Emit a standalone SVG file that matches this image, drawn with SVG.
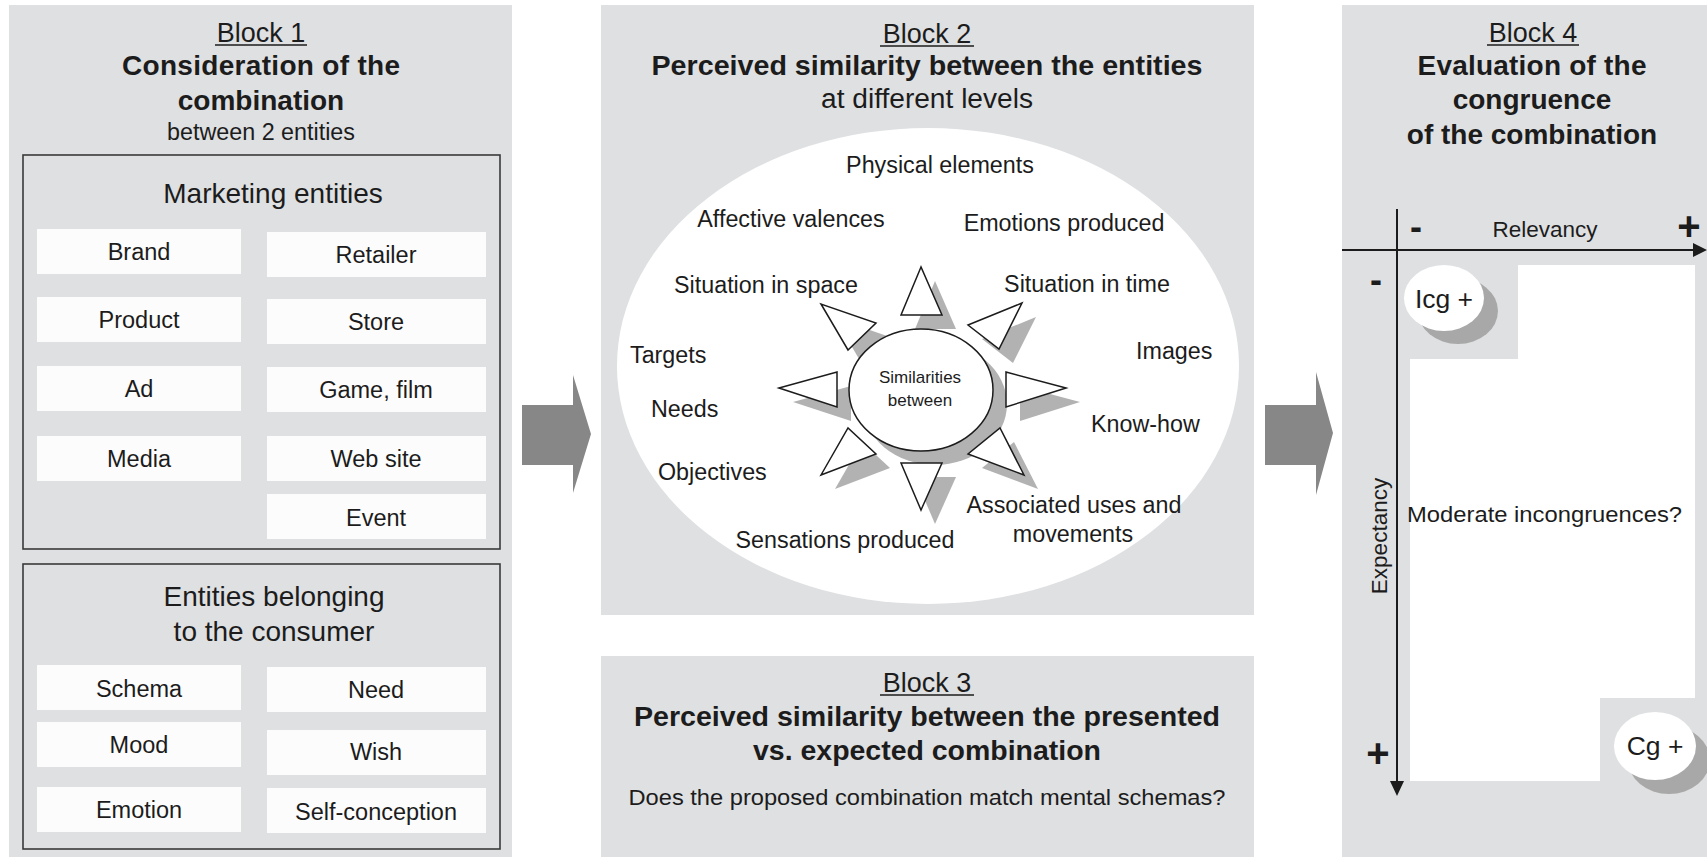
<svg xmlns="http://www.w3.org/2000/svg" xmlns:xlink="http://www.w3.org/1999/xlink" width="1707" height="857" viewBox="0 0 1707 857">
<style>
.panel{fill:#dfe0e2}
.t{font-family:"Liberation Sans",Arial,sans-serif;fill:#1c1c1c}
.b{font-weight:bold}
.c{text-anchor:middle}
.s28{font-size:28px}
.s27{font-size:27px}
.e{font-size:23.5px}
.l{font-size:23.3px}
.s22{font-size:22.5px}
.box{fill:#fcfcfc}
.frame{fill:none;stroke:#3a3a3a;stroke-width:1.6}
.ul{stroke:#1c1c1c;stroke-width:1.6}
.arrow{fill:#878787}
.axis{stroke:#1c1c1c;stroke-width:2}
</style>
<defs>
<g id="star">
<ellipse cx="921" cy="390" rx="72" ry="61"/>
<polygon points="921,267 901,315 942,315"/>
<polygon points="901,463 942,463 921,510"/>
<polygon points="779,388 837,372 837,407"/>
<polygon points="1066,388 1006,372 1006,407"/>
<polygon points="821,304 848,350 876,323"/>
<polygon points="1022,303 968,325 999,349"/>
<polygon points="821,475 848,428 876,454"/>
<polygon points="1024,475 1000,428 968,454"/>
</g>
</defs>
<rect width="1707" height="857" fill="#ffffff"/>

<g id="block1">
<rect class="panel" x="9" y="5" width="503" height="852"/>
<text class="t c s27" x="261" y="42">Block 1</text>
<line class="ul" x1="215" y1="45" x2="307" y2="45"/>
<text class="t c s28 b" x="261" y="75" textLength="278" lengthAdjust="spacing">Consideration of the</text>
<text class="t c s28 b" x="261" y="110">combination</text>
<text class="t c" font-size="23" x="261" y="140" textLength="188" lengthAdjust="spacingAndGlyphs">between 2 entities</text>
</g>

<g id="marketing-entities">
<rect class="frame" x="23" y="155" width="477" height="394"/>
<text class="t c s28" x="273" y="203">Marketing entities</text>
<rect class="box" x="37" y="229" width="204" height="45"/><text class="t c e" x="139" y="260">Brand</text>
<rect class="box" x="267" y="232" width="219" height="45"/><text class="t c e" x="376" y="263">Retailer</text>
<rect class="box" x="37" y="297" width="204" height="45"/><text class="t c e" x="139" y="328">Product</text>
<rect class="box" x="267" y="299" width="219" height="45"/><text class="t c e" x="376" y="330">Store</text>
<rect class="box" x="37" y="366" width="204" height="45"/><text class="t c e" x="139" y="397">Ad</text>
<rect class="box" x="267" y="367" width="219" height="45"/><text class="t c e" x="376" y="398">Game, film</text>
<rect class="box" x="37" y="436" width="204" height="45"/><text class="t c e" x="139" y="467">Media</text>
<rect class="box" x="267" y="436" width="219" height="45"/><text class="t c e" x="376" y="467">Web site</text>
<rect class="box" x="267" y="494" width="219" height="45"/><text class="t c e" x="376" y="526">Event</text>
</g>

<g id="consumer-entities">
<rect class="frame" x="23" y="564" width="477" height="285"/>
<text class="t c s28" x="274" y="606">Entities belonging</text>
<text class="t c s28" x="274" y="641">to the consumer</text>
<rect class="box" x="37" y="665" width="204" height="45"/><text class="t c e" x="139" y="697">Schema</text>
<rect class="box" x="267" y="667" width="219" height="45"/><text class="t c e" x="376" y="698">Need</text>
<rect class="box" x="37" y="722" width="204" height="45"/><text class="t c e" x="139" y="753">Mood</text>
<rect class="box" x="267" y="730" width="219" height="45"/><text class="t c e" x="376" y="760">Wish</text>
<rect class="box" x="37" y="787" width="204" height="45"/><text class="t c e" x="139" y="818">Emotion</text>
<rect class="box" x="267" y="788" width="219" height="45"/><text class="t c e" x="376" y="820">Self-conception</text>
</g>

<g id="block2">
<rect class="panel" x="601" y="5" width="653" height="610"/>
<text class="t c s27" x="927" y="43">Block 2</text>
<line class="ul" x1="880" y1="46" x2="974" y2="46"/>
<text class="t c s27 b" x="927" y="75" textLength="551" lengthAdjust="spacingAndGlyphs">Perceived similarity between the entities</text>
<text class="t c s27" x="927" y="108" textLength="212" lengthAdjust="spacingAndGlyphs">at different levels</text>
<ellipse cx="928" cy="366" rx="311" ry="238" fill="#ffffff"/>
<use xlink:href="#star" fill="#b2b2b2" transform="translate(14,14)"/>
<use xlink:href="#star" fill="#ffffff" stroke="#1c1c1c" stroke-width="1.5"/>
<text class="t c" font-size="17" x="920" y="383">Similarities</text>
<text class="t c" font-size="17" x="920" y="406">between</text>
<text class="t c l" x="940" y="173">Physical elements</text>
<text class="t c l" x="791" y="227">Affective valences</text>
<text class="t c l" x="1064" y="231">Emotions produced</text>
<text class="t c l" x="766" y="293">Situation in space</text>
<text class="t c l" x="1087" y="292">Situation in time</text>
<text class="t l" x="630" y="363">Targets</text>
<text class="t l" x="1136" y="359">Images</text>
<text class="t l" x="651" y="417">Needs</text>
<text class="t l" x="1091" y="432">Know-how</text>
<text class="t l" x="658" y="480">Objectives</text>
<text class="t c l" x="1074" y="513">Associated uses and</text>
<text class="t c l" x="1073" y="542">movements</text>
<text class="t c l" x="845" y="548">Sensations produced</text>
</g>

<g id="block3">
<rect class="panel" x="601" y="656" width="653" height="201"/>
<text class="t c s27" x="927" y="692">Block 3</text>
<line class="ul" x1="880" y1="695" x2="974" y2="695"/>
<text class="t c s27 b" x="927" y="726" textLength="586" lengthAdjust="spacingAndGlyphs">Perceived similarity between the presented</text>
<text class="t c s27 b" x="927" y="760" textLength="348" lengthAdjust="spacingAndGlyphs">vs. expected combination</text>
<text class="t c s22" x="927" y="805" textLength="597" lengthAdjust="spacingAndGlyphs">Does the proposed combination match mental schemas?</text>
</g>

<g id="block4">
<rect class="panel" x="1342" y="5" width="365" height="852"/>
<text class="t c s27" x="1533" y="42">Block 4</text>
<line class="ul" x1="1487" y1="45" x2="1579" y2="45"/>
<text class="t c s28 b" x="1532" y="75" textLength="229" lengthAdjust="spacing">Evaluation of the</text>
<text class="t c s28 b" x="1532" y="109">congruence</text>
<text class="t c s28 b" x="1532" y="144">of the combination</text>
<polygon points="1518,265 1695,265 1695,698 1600,698 1600,781 1410,781 1410,359 1518,359" fill="#ffffff"/>
<line class="axis" x1="1342" y1="250" x2="1696" y2="250"/>
<polygon points="1693,243 1707,250 1693,257" fill="#1c1c1c"/>
<line class="axis" x1="1397" y1="209" x2="1397" y2="784"/>
<polygon points="1390,781 1404,781 1397,796" fill="#1c1c1c"/>
<text class="t c b" font-size="36" x="1416" y="239">-</text>
<text class="t c s22" x="1545" y="237">Relevancy</text>
<text class="t c b" font-size="40" x="1689" y="240">+</text>
<text class="t c b" font-size="36" x="1376" y="292">-</text>
<text class="t c b" font-size="40" x="1378" y="767">+</text>
<text class="t c s22" transform="translate(1387,536) rotate(-90)">Expectancy</text>
<text class="t s22" x="1407" y="522" textLength="275" lengthAdjust="spacingAndGlyphs">Moderate incongruences?</text>
</g>

<g id="icg">
<ellipse cx="1458" cy="311" rx="40" ry="33" fill="#a8a8a8"/>
<ellipse cx="1444" cy="298" rx="40" ry="33" fill="#ffffff"/>
<text class="t c" font-size="26.5" x="1444" y="308">Icg +</text>
</g>

<g id="cg">
<ellipse cx="1669" cy="760" rx="41" ry="34" fill="#a8a8a8"/>
<ellipse cx="1655" cy="746" rx="41" ry="34" fill="#ffffff"/>
<text class="t c" font-size="26.5" x="1655" y="755">Cg +</text>
</g>

<g id="connectors">
<path class="arrow" d="M522,405 H573 V375 L591,434 L573,493 V465 H522 Z"/>
<path class="arrow" d="M1265,405 H1316 V372 L1333,433 L1316,495 V465 H1265 Z"/>
</g>
</svg>
